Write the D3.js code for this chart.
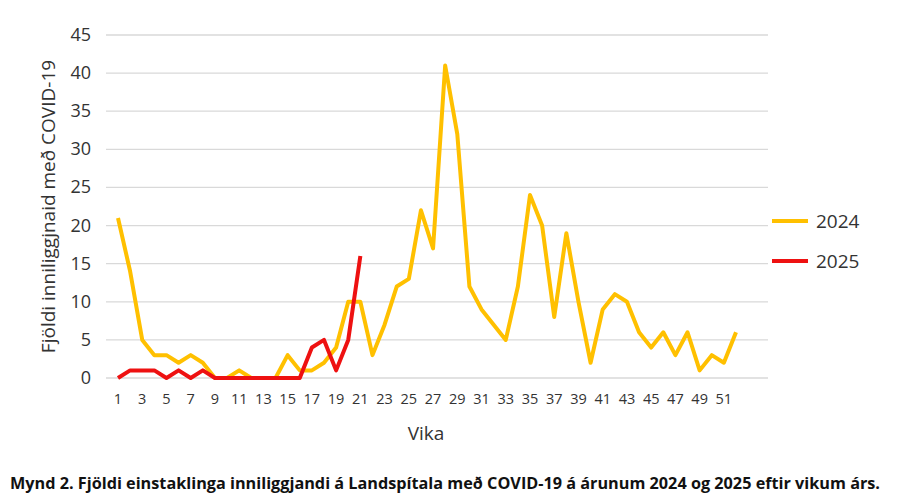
<!DOCTYPE html>
<html><head><meta charset="utf-8">
<script src="https://cdn.jsdelivr.net/npm/d3@7"></script>
<style>body{margin:0;background:#fff;font-family:"Open Sans","Noto Sans",sans-serif}</style>
</head><body><svg id="c" width="898" height="499"></svg>
<script>
const weeks = d3.range(1, 53);
const s2024 = [21,14,5,3,3,2,3,2,0,0,1,0,0,0,3,1,1,2,4,10,10,3,7,12,13,22,17,41,32,12,9,7,5,12,24,20,8,19,10,2,9,11,10,6,4,6,3,6,1,3,2,6];
const s2025 = [0,1,1,1,0,1,0,1,0,0,0,0,0,0,0,0,4,5,1,5,16];
const yTicks = d3.range(0, 50, 5);
const series = [{name:'2024', values:s2024, color:'#FFC000'}, {name:'2025', values:s2025, color:'#EE1111'}];

const svg = d3.select('#c');
const gridL = 106, gridR = 768;
const x = d3.scaleLinear().domain([1, 52]).range([118, 736]);
const y = d3.scaleLinear().domain([0, 45]).range([378, 35]);

svg.append('g').selectAll('line').data(yTicks).join('line')
  .attr('x1', gridL).attr('x2', gridR).attr('y1', d => y(d)).attr('y2', d => y(d))
  .attr('stroke', '#d9d9d9').attr('stroke-width', 1.3);
svg.append('g').selectAll('text').data(yTicks).join('text')
  .attr('x', 91).attr('y', d => y(d) + 6).attr('text-anchor', 'end')
  .attr('font-size', 18).attr('fill', '#333').text(d => d);
svg.append('g').selectAll('text').data(weeks.filter(w => w % 2)).join('text')
  .attr('x', d => x(d)).attr('y', 404).attr('text-anchor', 'middle')
  .attr('font-size', 14.5).attr('fill', '#333').text(d => d);

const line = d3.line().x((d, i) => x(i + 1)).y(d => y(d));
series.forEach(s => svg.append('path').datum(s.values).attr('d', line)
  .attr('fill', 'none').attr('stroke', s.color).attr('stroke-width', 4).attr('stroke-linejoin', 'round'));

series.forEach((s, i) => {
  const ly = 221 + i * 40;
  svg.append('line').attr('x1', 772).attr('x2', 808).attr('y1', ly).attr('y2', ly)
    .attr('stroke', s.color).attr('stroke-width', 4);
  svg.append('text').attr('x', 816).attr('y', ly + 7).attr('font-size', 19).attr('fill', '#333').text(s.name);
});

svg.append('text').attr('x', 426).attr('y', 440).attr('text-anchor', 'middle')
  .attr('font-size', 19).attr('fill', '#333').text('Vika');
svg.append('text').attr('transform', `translate(55,${y(22.5)}) rotate(-90)`).attr('text-anchor', 'middle')
  .attr('font-size', 19).attr('fill', '#333').text('Fjöldi inniliggjnaid með COVID-19');
svg.append('text').attr('x', 10).attr('y', 489)
  .attr('font-size', 16).attr('font-weight', 'bold').attr('fill', '#111')
  .attr('textLength', 870).attr('lengthAdjust', 'spacingAndGlyphs')
  .text('Mynd 2. Fjöldi einstaklinga inniliggjandi á Landspítala með COVID-19 á árunum 2024 og 2025 eftir vikum árs.');
</script></body></html>
